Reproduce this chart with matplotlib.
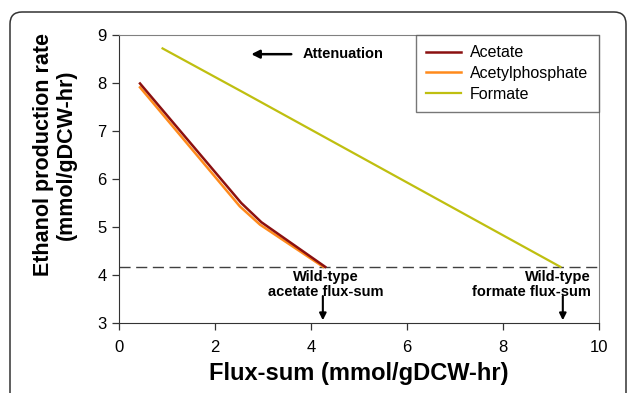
import matplotlib.pyplot as plt
from matplotlib.patches import FancyBboxPatch

plt.rcParams['font.family'] = ['Liberation Sans', 'DejaVu Sans']

# values
acetate_x = [0.44, 2.55, 2.97, 4.30]
acetate_y = [7.99, 5.50, 5.10, 4.17]
acetylp_x = [0.44, 2.52, 2.94, 4.26]
acetylp_y = [7.91, 5.43, 5.05, 4.17]
formate_x = [0.91, 2.60, 9.20]
formate_y = [8.72, 7.80, 4.17]
wild_type_rate = 4.17
wt_acetate = 4.25
wt_formate = 9.25

fig = plt.figure(figsize=(6.29, 3.93), dpi=100)
ax = fig.add_axes([0.189, 0.178, 0.763, 0.733])

ax.plot(acetate_x, acetate_y, color='#8b1010', lw=1.8, label='Acetate', zorder=3)
ax.plot(acetylp_x, acetylp_y, color='#ff8a1c', lw=1.8, label='Acetylphosphate', zorder=2)
ax.plot(formate_x, formate_y, color='#bfbf10', lw=1.6, label='Formate', zorder=2)
ax.axhline(wild_type_rate, color='#404040', lw=1, dashes=(8, 4), zorder=1)

ax.set_xlim(0, 10)
ax.set_ylim(3, 9)
ax.set_xticks([0, 2, 4, 6, 8, 10])
ax.set_yticks([3, 4, 5, 6, 7, 8, 9])
ax.tick_params(axis='both', labelsize=12, length=5, width=0.9, color='#333333')
ax.tick_params(axis='y', direction='out', pad=4)
ax.tick_params(axis='x', direction='out', pad=7)
for s in ['top', 'right']:
    ax.spines[s].set_color('#808080')
for s in ['left', 'bottom']:
    ax.spines[s].set_color('#333333')

ax.set_xlabel('Flux-sum (mmol/gDCW-hr)', fontsize=17, fontweight='bold')
ax.xaxis.set_label_coords(0.5, -0.135)
ax.set_ylabel('Ethanol production rate\n(mmol/gDCW-hr)', fontsize=15.5, fontweight='bold',
              linespacing=1.1)
ax.yaxis.set_label_coords(-0.088, 0.585)

leg = ax.legend(loc='upper right', borderaxespad=0, fontsize=11.5, frameon=True,
                fancybox=False, edgecolor='#555555', handlelength=2.2,
                labelspacing=0.35, borderpad=0.65, handletextpad=0.55)
leg.get_frame().set_linewidth(1.0)

# attenuation arrow
ax.annotate('', xy=(2.7, 8.6), xytext=(3.65, 8.6),
            arrowprops=dict(arrowstyle='-|>', color='black', lw=1.8, mutation_scale=12))
ax.text(3.83, 8.6, 'Attenuation', fontsize=10.5, fontweight='bold', va='center', ha='left')

# wild-type markers
ax.annotate('', xy=(wt_acetate, 3.0), xytext=(wt_acetate, 3.62),
            arrowprops=dict(arrowstyle='-|>', color='black', lw=1.5, mutation_scale=10))
ax.annotate('', xy=(wt_formate, 3.0), xytext=(wt_formate, 3.62),
            arrowprops=dict(arrowstyle='-|>', color='black', lw=1.5, mutation_scale=10))
ax.text(4.32, 4.1, 'Wild-type\nacetate flux-sum', fontsize=10.5, fontweight='bold',
        ha='center', va='top', multialignment='center', linespacing=1.1)
ax.text(9.83, 4.1, 'Wild-type\nformate flux-sum', fontsize=10.5, fontweight='bold',
        ha='right', va='top', multialignment='right', linespacing=1.1)

# rounded frame around the panel
frame = FancyBboxPatch((0.10, -0.5), 6.16, 4.31, boxstyle='round,pad=0,rounding_size=0.12',
                       transform=fig.dpi_scale_trans, fill=False, edgecolor='#333333',
                       lw=1.1, clip_on=False)
fig.patches.append(frame)

fig.savefig('out.png', dpi=100)
